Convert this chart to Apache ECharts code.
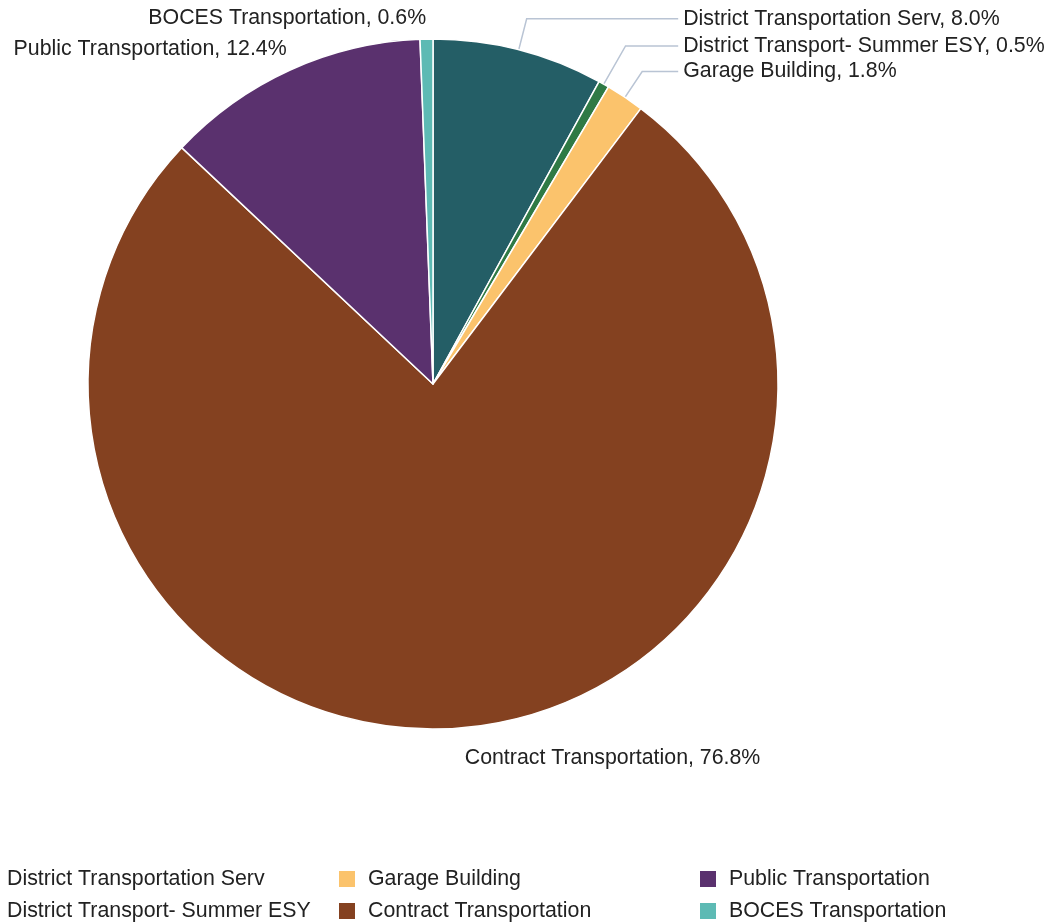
<!DOCTYPE html>
<html>
<head>
<meta charset="utf-8">
<script src="https://cdn.jsdelivr.net/npm/echarts@6/dist/echarts.min.js"></script>
<style>
  html, body { margin: 0; padding: 0; background: #fff; }
  #chart { width: 1058px; height: 924px; }
</style>
</head>
<body>
<div id="chart"></div>
<script>
// slices go clockwise from 12 o'clock
var categories = [
    'District Transportation Serv',
    'District Transport- Summer ESY',
    'Garage Building',
    'Contract Transportation',
    'Public Transportation',
    'BOCES Transportation'
];
var shares = [8.0, 0.5, 1.8, 76.8, 12.4, 0.6];
var colors = ['#245e66', '#2f7a45', '#fbc36c', '#844120', '#5a316e', '#5dbab4'];

// legend runs in columns, three per row
var legendOrder = [
    'District Transportation Serv',
    'Garage Building',
    'Public Transportation',
    'District Transport- Summer ESY',
    'Contract Transportation',
    'BOCES Transportation'
];

var FONT = '"Liberation Sans", Arial, sans-serif';
var FONT_SIZE = 21.33;

// label placement per slice (right side gets leader lines)
var labelSetup = [
    { line: true,  len: 32, len2: 36, dist: 5, align: 'labelLine' },
    { line: true,  len: 44, len2: 36, dist: 5, align: 'labelLine' },
    { line: true,  len: 31, len2: 36, dist: 5, align: 'labelLine' },
    { line: false, len: 30, len2: 0,  dist: 0, align: 'none' },
    { line: false, len: 23, len2: 0,  dist: -6, align: 'none' },
    { line: false, len: 21, len2: 0,  dist: 0, align: 'none' }
];

var chart = echarts.init(document.getElementById('chart'));

var option = {
    animation: false,
    legend: {
        data: legendOrder,
        left: -24,
        top: 863,
        width: 1090,
        padding: 0,
        itemGap: 0,
        itemWidth: 18,
        itemHeight: 18,
        icon: 'rect',
        textStyle: {
            fontFamily: FONT,
            fontSize: FONT_SIZE,
            color: '#222',
            width: 330,
            lineHeight: 32,
            padding: [0, 0, 0, 7]
        }
    },
    series: [
        {
            type: 'pie',
            center: [433, 384],
            radius: 345,
            startAngle: 90,
            clockwise: true,
            avoidLabelOverlap: true,
            itemStyle: {
                borderColor: '#fff',
                borderWidth: 1.5
            },
            label: {
                fontFamily: FONT,
                fontSize: FONT_SIZE,
                color: '#222',
                bleedMargin: 0,
                formatter: function (p) {
                    return p.name + ', ' + p.value.toFixed(1) + '%';
                }
            },
            labelLine: {
                lineStyle: { color: '#b9c4d4', width: 1.5 }
            },
            emphasis: { scale: false },
            data: categories.map(function (name, i) {
                var s = labelSetup[i];
                return {
                    name: name,
                    value: shares[i],
                    itemStyle: { color: colors[i] },
                    label: { alignTo: s.align, distanceToLabelLine: s.dist },
                    labelLine: { show: s.line, length: s.len, length2: s.len2 }
                };
            })
        }
    ]
};

chart.setOption(option);
</script>
</body>
</html>
